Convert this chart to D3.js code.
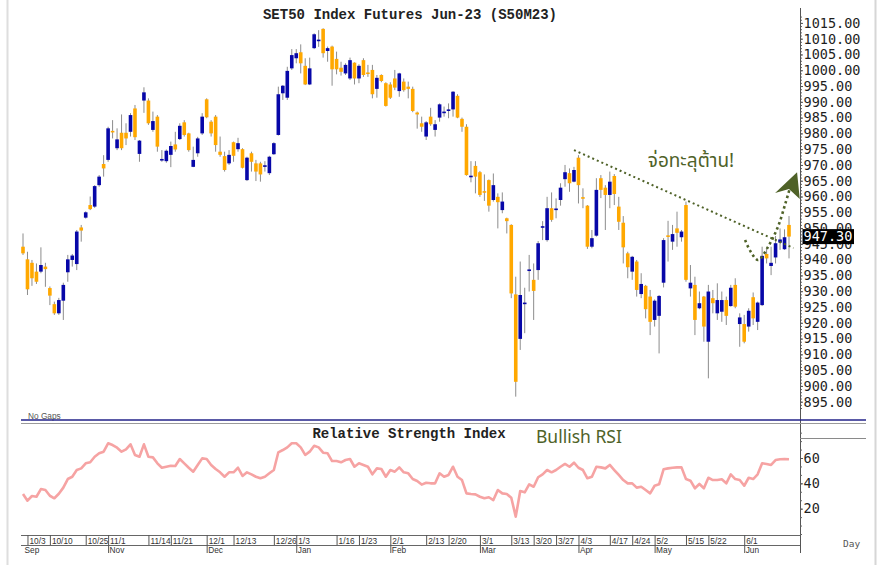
<!DOCTYPE html>
<html>
<head>
<meta charset="utf-8">
<script src="https://cdn.jsdelivr.net/npm/d3@7"></script>
<style>
  html, body { margin: 0; padding: 0; background: #fff; }
  svg { display: block; }
</style>
</head>
<body>
<div id="chart"></div>
<script>
// SET50 Index Futures Jun-23 daily candles + RSI

// market holidays (weekdays with no trading)
const holidays = ["2022-10-13", "2022-10-14", "2022-10-24", "2022-12-05", "2022-12-12",
  "2023-01-02", "2023-03-06", "2023-04-06", "2023-04-13", "2023-04-14", "2023-05-01",
  "2023-05-04", "2023-05-05", "2023-06-05"];

const opens = [944.1, 940.1, 939.0, 936.2, 936.2, 937.8, 931.0, 925.9, 923.0, 927.0,
  936.0, 939.9, 938.6, 950.2, 953.3, 957.3, 956.8, 963.6, 970.3, 971.6,
  980.8, 975.3, 980.2, 980.2, 980.5, 987.9, 973.5, 990.4, 990.4, 981.1,
  985.3, 971.6, 971.2, 973.2, 976.5, 978.2, 983.5, 980.0, 969.4, 973.7,
  980.0, 990.8, 983.7, 985.3, 974.2, 972.8, 970.5, 977.2, 975.0, 975.0,
  965.2, 973.7, 970.5, 970.5, 969.7, 967.4, 973.4, 979.5, 992.7, 991.3,
  1000.6, 1003.8, 1005.7, 1001.4, 995.5, 1007.0, 1009.4, 1013.1, 1006.1, 1007.5,
  1003.6, 1000.8, 999.0, 997.4, 1002.4, 997.4, 1003.2, 999.3, 1000.1, 994.1,
  998.5, 995.9, 995.5, 997.4, 993.4, 996.4, 994.8, 994.1, 986.6, 983.2,
  979.0, 985.3, 981.1, 985.0, 986.6, 987.3, 987.6, 991.9, 984.6, 982.1,
  966.3, 969.7, 967.7, 961.7, 965.2, 958.9, 959.9, 955.7, 953.1, 951.0,
  929.0, 914.9, 926.0, 936.5, 933.6, 936.7, 950.2, 946.2, 956.3, 955.8,
  958.9, 965.5, 967.4, 964.7, 972.3, 959.8, 957.1, 944.1, 947.6, 965.8,
  962.8, 960.5, 966.5, 956.8, 951.7, 942.0, 936.2, 939.4, 929.1, 931.7,
  928.3, 920.9, 922.2, 932.7, 947.7, 945.7, 949.9, 947.1, 957.3, 930.9,
  932.0, 924.6, 928.3, 914.0, 927.8, 923.0, 923.5, 927.2, 925.3, 932.0,
  919.6, 919.6, 918.8, 928.1, 920.3, 925.6, 941.8, 938.0, 940.7, 945.4,
  943.3, 951.0];

const highs = [948.3, 942.5, 939.9, 938.8, 943.9, 939.0, 931.5, 926.7, 927.9, 932.7,
  941.5, 941.8, 949.4, 951.0, 955.3, 960.0, 963.6, 966.8, 973.1, 982.1,
  984.2, 981.6, 986.0, 983.2, 986.4, 989.0, 977.9, 994.6, 991.1, 986.9,
  985.8, 974.7, 974.9, 977.4, 980.5, 983.2, 984.2, 980.2, 975.8, 978.9,
  986.4, 991.1, 984.2, 985.8, 979.0, 974.2, 974.7, 977.4, 978.6, 975.3,
  972.6, 974.2, 971.6, 971.0, 971.2, 972.9, 977.2, 994.8, 995.3, 1001.1,
  1006.7, 1006.7, 1008.2, 1003.8, 1004.0, 1011.7, 1012.7, 1013.3, 1007.5, 1007.8,
  1005.9, 1002.7, 1002.2, 1004.0, 1002.5, 1001.9, 1003.8, 1001.7, 1001.7, 998.5,
  998.7, 996.2, 996.2, 1000.1, 999.2, 997.4, 996.4, 994.8, 986.9, 985.3,
  983.9, 988.1, 984.2, 989.5, 988.5, 989.5, 993.4, 992.4, 985.0, 982.9,
  971.2, 971.2, 968.1, 967.0, 965.4, 967.3, 961.0, 961.3, 953.3, 951.2,
  934.6, 939.4, 931.1, 941.5, 938.8, 945.9, 952.2, 959.9, 961.3, 959.4,
  964.2, 970.0, 968.9, 969.4, 973.1, 962.6, 957.3, 949.4, 965.8, 966.8,
  963.6, 967.9, 967.1, 959.9, 953.8, 942.5, 941.2, 939.9, 935.7, 932.0,
  930.4, 927.4, 928.8, 946.8, 952.3, 951.0, 955.2, 949.4, 958.4, 938.3,
  934.6, 929.9, 928.5, 932.0, 930.4, 932.5, 929.9, 928.3, 932.0, 934.1,
  923.0, 922.5, 924.6, 929.6, 926.7, 944.1, 943.6, 944.1, 947.5, 949.9,
  949.6, 953.8];

const lows = [941.5, 928.8, 931.7, 932.3, 935.7, 931.4, 925.6, 922.5, 922.5, 920.9,
  933.0, 937.8, 936.7, 945.7, 953.0, 955.7, 956.4, 963.1, 966.3, 971.0,
  978.4, 974.7, 974.7, 976.3, 979.0, 977.9, 971.0, 986.5, 982.7, 980.5,
  974.2, 971.0, 970.7, 969.3, 974.2, 977.9, 979.0, 974.2, 969.3, 972.6,
  979.5, 984.8, 979.0, 974.2, 972.6, 967.9, 970.0, 971.0, 974.2, 968.9,
  964.9, 967.9, 964.9, 964.7, 967.9, 966.8, 973.2, 979.3, 990.6, 990.6,
  1000.1, 1002.2, 999.0, 995.3, 995.3, 1006.7, 1007.4, 1004.0, 1002.7, 995.1,
  998.7, 998.3, 998.5, 996.9, 995.5, 995.9, 997.9, 997.9, 991.1, 991.3,
  996.2, 988.5, 990.9, 993.7, 991.6, 993.2, 991.1, 986.7, 981.5, 980.5,
  977.9, 982.4, 979.0, 983.7, 985.3, 984.8, 985.3, 984.8, 980.5, 966.6,
  964.5, 961.0, 959.9, 958.6, 955.2, 958.4, 949.9, 954.7, 948.3, 927.8,
  896.6, 911.4, 916.7, 929.9, 920.9, 933.6, 946.2, 945.7, 952.0, 953.1,
  957.1, 963.1, 961.5, 964.5, 957.8, 956.3, 943.4, 943.6, 947.3, 959.5,
  949.4, 956.3, 957.3, 949.4, 938.8, 934.1, 933.6, 928.3, 927.8, 921.4,
  916.1, 918.8, 910.3, 931.2, 939.4, 943.1, 944.1, 945.7, 933.0, 928.3,
  916.1, 924.3, 914.0, 902.4, 923.0, 920.9, 920.3, 919.3, 925.1, 924.6,
  912.4, 913.5, 917.2, 919.3, 917.7, 925.3, 938.8, 935.1, 938.8, 943.1,
  943.1, 940.4];

const closes = [942.0, 930.6, 934.1, 933.0, 938.3, 937.0, 928.6, 923.0, 927.2, 932.0,
  940.1, 941.3, 948.9, 949.2, 955.0, 956.0, 963.3, 966.3, 968.9, 981.6,
  980.4, 978.1, 975.3, 978.4, 985.8, 978.8, 977.7, 993.0, 983.2, 983.9,
  975.8, 971.9, 974.5, 976.0, 974.9, 982.4, 979.5, 974.7, 971.6, 978.4,
  985.3, 985.1, 980.0, 976.3, 973.2, 968.4, 973.2, 972.9, 976.9, 969.1,
  972.3, 971.0, 967.9, 967.0, 969.9, 972.6, 976.9, 992.4, 995.1, 999.8,
  1004.8, 1005.4, 1002.2, 995.5, 1000.6, 1011.4, 1009.7, 1005.4, 1007.0, 1000.3,
  1000.3, 999.5, 1001.7, 1003.2, 997.4, 1001.4, 998.5, 998.8, 992.4, 997.6,
  996.6, 988.7, 991.3, 994.5, 999.0, 993.7, 994.1, 987.1, 986.0, 982.1,
  983.5, 982.9, 982.9, 989.2, 986.9, 987.6, 993.2, 985.0, 982.1, 966.8,
  966.6, 966.3, 960.5, 961.3, 957.1, 963.6, 958.2, 958.4, 952.2, 929.3,
  901.3, 928.8, 926.4, 936.9, 930.1, 945.2, 950.6, 956.3, 952.6, 956.2,
  962.8, 967.7, 964.2, 968.4, 963.6, 959.4, 944.1, 946.8, 962.1, 962.1,
  960.5, 964.7, 960.8, 952.0, 943.9, 937.6, 940.9, 930.4, 932.3, 924.3,
  920.3, 927.0, 928.5, 946.2, 947.3, 948.1, 948.5, 948.9, 933.6, 932.7,
  920.9, 926.2, 918.8, 929.9, 926.2, 927.2, 927.2, 922.2, 931.1, 925.1,
  921.7, 914.0, 923.8, 921.4, 926.4, 941.2, 940.4, 939.0, 945.2, 946.4,
  947.1, 947.3];

const rsi = [31.6, 26.3, 30, 29.4, 35.5, 34.7, 30.2, 28.2, 31.8, 36.6,
  43.4, 45.2, 50.5, 51.8, 55.8, 56.6, 61, 63.7, 65, 71.6,
  70.2, 68.1, 65, 66.8, 70.8, 62.4, 61, 70.8, 61, 60.5,
  55.8, 52.3, 53.1, 53.9, 53.7, 59.2, 55.8, 52.3, 49.2, 54.5,
  59.7, 59.2, 54.5, 51.3, 48.7, 45.2, 48.7, 48.7, 52.3, 45.8,
  48.7, 47.1, 45.2, 44, 45.2, 47.9, 50.5, 64.5, 66.3, 68.4,
  71.6, 71.6, 68.4, 62.4, 65, 69.7, 68.4, 64.2, 63.7, 57.6,
  57.6, 56.6, 58.4, 59.2, 53.1, 55.8, 54.5, 53.1, 47.1, 51.8,
  51.3, 45.2, 50.5, 49.2, 52.6, 48.7, 47.9, 43.4, 41.8, 39,
  40.5, 40, 40, 47.9, 45.2, 46.6, 53.1, 45.2, 42.6, 32.1,
  31.6, 31.3, 29.4, 28.2, 29, 26.8, 34.7, 32.1, 31.6, 28.6,
  13.7, 33.9, 32.9, 39.2, 37.3, 44.8, 47.1, 50.5, 48.7, 50.5,
  53.1, 55.3, 53.1, 56.3, 52.3, 50.5, 44, 45.2, 53.1, 52.6,
  51.8, 54.5, 50.5, 46.6, 42.6, 40, 40, 36.6, 37.3, 34.7,
  32.1, 38.1, 39.2, 51.1, 51.8, 52.3, 52.6, 52.6, 43.4, 42.1,
  36.1, 39.5, 36.1, 44.4, 42.6, 42.6, 43.2, 40, 47.1, 43.4,
  42.6, 38.1, 44.4, 43.4, 47.1, 55.8, 55.3, 54.5, 58.4, 59,
  59.2, 59];

const dateTicks = ["10/3", "10/10", "10/25", "11/1", "11/14", "11/21", "12/1", "12/13",
  "12/26", "1/3", "1/16", "1/23", "2/1", "2/13", "2/20", "3/1", "3/13", "3/20", "3/27",
  "4/3", "4/17", "4/24", "5/2", "5/15", "5/22", "6/1"];
const monthNames = ["Sep", "Nov", "Dec", "Jan", "Feb", "Mar", "Apr", "May", "Jun"];
const monthStarts = ["9/30", "11/1", "12/1", "1/3", "2/1", "3/1", "4/3", "5/2", "6/1"];
const priceTicks = d3.range(895, 1016, 5);
const rsiTicks = [20, 40, 60];

// annotation anchors in (bar index, price)
const trendLine = [[123, 974.7], [172, 943.7]];
const breakoutPath = [[161.2, 946.2], [162.5, 942.4], [164.1, 939.9], [166.3, 944.0],
  [168.5, 950.3], [170.3, 958.3], [171.2, 962.7]];
const arrowHead = [[172.8, 967.7], [167.9, 961.1], [171.0, 962.4], [173.4, 959.2]];

// build trading-day labels
const fmtKey = d3.timeFormat("%Y-%m-%d");
const days = [];
for (let d = new Date(2022, 8, 30); days.length < closes.length; d.setDate(d.getDate() + 1)) {
  const wd = d.getDay();
  if (wd === 0 || wd === 6 || holidays.includes(fmtKey(d))) continue;
  days.push((d.getMonth() + 1) + "/" + d.getDate());
}

const W = 880, H = 565;
const axisX = 800;
const olive = "#4f6228";
const monoFont = "'DejaVu Sans Mono', monospace";

const svg = d3.select("#chart").append("svg")
  .attr("width", W)
  .attr("height", H)
  .style("font-family", "'Liberation Sans', Arial, sans-serif");

// scales
const x = d3.scaleLinear().domain([0, closes.length - 1]).range([23, 789]);
const y = d3.scaleLinear().domain([895, 1015]).range([401.7, 22.9]);
const yR = d3.scaleLinear().domain([0, 60]).range([534, 458]);

// window frame
svg.append("line").attr("x1", 7.5).attr("x2", 7.5).attr("y1", 0).attr("y2", H)
  .attr("stroke", "#dedede").attr("stroke-width", 2);
svg.append("line").attr("x1", 875.5).attr("x2", 875.5).attr("y1", 0).attr("y2", H)
  .attr("stroke", "#d6d6d6").attr("stroke-width", 2);

// title
svg.append("text")
  .attr("x", 410).attr("y", 18.5)
  .attr("text-anchor", "middle")
  .attr("font-family", "'Liberation Mono', 'Courier New', monospace")
  .attr("font-weight", "bold")
  .attr("font-size", "14px")
  .attr("fill", "#222")
  .text("SET50 Index Futures Jun-23 (S50M23)");

// price axis
const yMinor = svg.append("g").attr("transform", `translate(${axisX},0)`)
  .call(d3.axisRight(y).tickValues(d3.range(893, 1018, 1)).tickSize(2).tickFormat(""));
yMinor.select(".domain").remove();
yMinor.selectAll("line").attr("stroke", "#666");

const yAxis = svg.append("g").attr("transform", `translate(${axisX},0)`)
  .call(d3.axisRight(y).tickValues(priceTicks).tickFormat(d3.format(".2f"))
    .tickSize(3).tickPadding(0.5));
yAxis.select(".domain").remove();
yAxis.selectAll("line").attr("stroke", "#555");
yAxis.selectAll("text")
  .attr("font-family", monoFont)
  .attr("font-size", "13.5px")
  .attr("fill", "#1e1e1e");

// axis line
svg.append("line").attr("x1", axisX + 0.5).attr("x2", axisX + 0.5).attr("y1", 8).attr("y2", 553)
  .attr("stroke", "#555");

// candles
const bars = svg.append("g");
closes.forEach((c, i) => {
  const o = opens[i];
  bars.append("line")
    .attr("x1", x(i)).attr("x2", x(i))
    .attr("y1", y(highs[i])).attr("y2", y(lows[i]))
    .attr("stroke", "#8c8c8c").attr("stroke-width", 1);
  const top = y(Math.max(o, c)), bot = y(Math.min(o, c));
  bars.append("rect")
    .attr("x", x(i) - 1.8)
    .attr("width", 3.6)
    .attr("y", top)
    .attr("height", Math.max(1.6, bot - top))
    .attr("fill", c >= o ? "#0707a8" : "#ffa800");
});

// last price tag
const last = closes[closes.length - 1];
svg.append("rect")
  .attr("x", 802.5).attr("y", y(last) - 7.5)
  .attr("width", 51.5).attr("height", 15)
  .attr("fill", "#000");
svg.append("text")
  .attr("x", 803.5).attr("y", y(last))
  .attr("dy", "0.36em")
  .attr("font-family", monoFont)
  .attr("font-size", "13.5px")
  .attr("fill", "#fff")
  .text(last.toFixed(2));

// annotations
const line = d3.line().x(d => x(d[0])).y(d => y(d[1]));
svg.append("path")
  .attr("d", line(trendLine))
  .attr("fill", "none")
  .attr("stroke", olive)
  .attr("stroke-width", 2)
  .attr("stroke-dasharray", "2,3");

svg.append("path")
  .attr("d", line.curve(d3.curveCatmullRom)(breakoutPath))
  .attr("fill", "none")
  .attr("stroke", olive)
  .attr("stroke-width", 2.6)
  .attr("stroke-dasharray", "2.5,3");

svg.append("path")
  .attr("d", d3.line().x(d => x(d[0])).y(d => y(d[1]))(arrowHead) + "Z")
  .attr("fill", olive);

svg.append("text")
  .attr("x", 691).attr("y", 167)
  .attr("text-anchor", "middle")
  .attr("font-family", "'Noto Sans', 'Noto Sans Thai', sans-serif")
  .attr("font-size", "19px")
  .attr("fill", olive)
  .text("จ่อทะลุต้าน!");

svg.append("text")
  .attr("x", 28).attr("y", 418.5)
  .attr("font-size", "8.3px")
  .attr("fill", "#555")
  .text("No Gaps");

// panel separator
svg.append("line").attr("x1", 21).attr("x2", 866).attr("y1", 420).attr("y2", 420)
  .attr("stroke", "#23238a").attr("stroke-width", 1.5);
svg.append("line").attr("x1", 21).attr("x2", 866).attr("y1", 423.5).attr("y2", 423.5)
  .attr("stroke", "#9a9a9a").attr("stroke-width", 1);
svg.append("line").attr("x1", axisX).attr("x2", 866).attr("y1", 438.5).attr("y2", 438.5)
  .attr("stroke", "#8a8a8a").attr("stroke-width", 1);

// RSI panel
svg.append("text")
  .attr("x", 409).attr("y", 437.5)
  .attr("text-anchor", "middle")
  .attr("font-family", "'Liberation Mono', 'Courier New', monospace")
  .attr("font-weight", "bold")
  .attr("font-size", "14px")
  .attr("fill", "#222")
  .text("Relative Strength Index");

svg.append("text")
  .attr("x", 536).attr("y", 443)
  .attr("font-family", "'Noto Sans', sans-serif")
  .attr("font-size", "17.5px")
  .attr("fill", olive)
  .text("Bullish RSI");

const rMinor = svg.append("g").attr("transform", `translate(${axisX},0)`)
  .call(d3.axisRight(yR).tickValues(d3.range(0, 86, 20 / 3)).tickSize(2).tickFormat(""));
rMinor.select(".domain").remove();
rMinor.selectAll("line").attr("stroke", "#666");

const rAxis = svg.append("g").attr("transform", `translate(${axisX},0)`)
  .call(d3.axisRight(yR).tickValues(rsiTicks).tickSize(3).tickPadding(0.5));
rAxis.select(".domain").remove();
rAxis.selectAll("line").attr("stroke", "#555");
rAxis.selectAll("text")
  .attr("font-family", monoFont)
  .attr("font-size", "13.5px")
  .attr("fill", "#1e1e1e");

svg.append("path")
  .datum(rsi)
  .attr("d", d3.line().x((d, i) => x(i)).y(d => yR(d)))
  .attr("fill", "none")
  .attr("stroke", "#f6a3a3")
  .attr("stroke-width", 2.6)
  .attr("stroke-linejoin", "round");

// date axis
svg.append("line").attr("x1", 21).attr("x2", axisX).attr("y1", 535.5).attr("y2", 535.5)
  .attr("stroke", "#666");
svg.append("line").attr("x1", 21).attr("x2", axisX).attr("y1", 545.5).attr("y2", 545.5)
  .attr("stroke", "#666");

const dateAxis = svg.append("g").attr("transform", "translate(0,535)")
  .call(d3.axisBottom(x).tickValues(dateTicks.map(t => days.indexOf(t)))
    .tickFormat(i => days[i]).tickSize(10).tickSizeOuter(0));
dateAxis.select(".domain").remove();
dateAxis.selectAll("line").attr("stroke", "#555");
dateAxis.selectAll("text")
  .attr("text-anchor", "start")
  .attr("x", 1.5).attr("y", 3).attr("dy", "0.71em")
  .attr("font-family", "'Liberation Sans', Arial, sans-serif")
  .attr("font-size", "8.3px")
  .attr("fill", "#333");

const monthAxis = svg.append("g").attr("transform", "translate(0,545)")
  .call(d3.axisBottom(x).tickValues(monthStarts.map(t => days.indexOf(t)))
    .tickFormat((i, k) => monthNames[k]).tickSize(8).tickSizeOuter(0));
monthAxis.select(".domain").remove();
monthAxis.selectAll("line").attr("stroke", (d, k) => k === 0 ? "none" : "#555");
monthAxis.selectAll("text")
  .attr("text-anchor", "start")
  .attr("x", 1).attr("y", 2).attr("dy", "0.71em")
  .attr("font-family", "'Liberation Sans', Arial, sans-serif")
  .attr("font-size", "8.3px")
  .attr("fill", "#333");

svg.append("text")
  .attr("x", 843).attr("y", 547)
  .attr("font-family", monoFont)
  .attr("font-size", "9.5px")
  .attr("fill", "#555")
  .text("Day");
</script>
</body>
</html>
